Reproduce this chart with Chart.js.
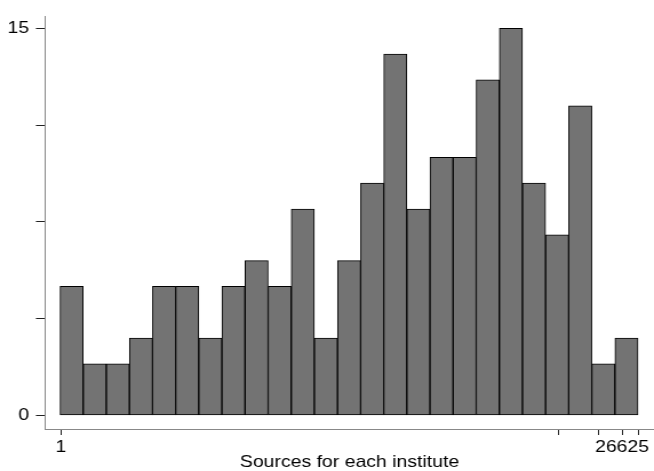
<!DOCTYPE html>
<html>
<head>
<meta charset="utf-8">
<script src="https://cdn.jsdelivr.net/npm/chart.js@4.4.1/dist/chart.umd.min.js"></script>
<style>
  body { margin: 0; background: #fff; }
</style>
</head>
<body>
<!-- drawn narrower and stretched sideways, like the original picture -->
<canvas id="hist" width="572" height="471" style="width:654px;height:471px;display:block"></canvas>
<script>
// frequency of each bin (25 bins)
var counts = [5, 2, 2, 3, 5, 5, 3, 5, 6, 5, 8, 3, 6, 9, 14, 8, 10, 10, 13, 15, 9, 7, 12, 2, 3];

// x axis ticks, in bin units
var xTickValues = [0.03, 21.58, 23.27, 24.31, 25.0];
var xTickLabels = ['1', '', '', '26625', ''];

// y axis ticks
var yTickValues = [0, 3.75, 7.5, 11.25, 15];
var yTickLabels = ['0', '', '', '', '15'];

var font = { family: "'Liberation Sans', Arial, sans-serif", size: 17 };

var points = [];
for (var i = 0; i < counts.length; i++) {
    points.push({ x: i + 0.5, y: counts[i] });
}

var ctx = document.getElementById('hist');

var myChart = new Chart(ctx, {
    type: 'bar',
    data: {
        datasets: [{
            label: 'Frequency',
            data: points,
            backgroundColor: '#737373',
            borderColor: '#000000',
            borderWidth: 1,
            borderSkipped: false,
            barThickness: 'flex',
            barPercentage: 1,
            categoryPercentage: 1
        }]
    },
    options: {
        responsive: false,
        devicePixelRatio: 1,
        animation: false,
        layout: { padding: { top: 12, left: 0, right: 0, bottom: 0 } },
        plugins: {
            legend: { display: false },
            tooltip: { enabled: false }
        },
        scales: {
            x: {
                type: 'linear',
                offset: false,
                min: -0.649,
                max: 25.69,
                grid: { display: true, drawOnChartArea: false, tickLength: 6, tickColor: '#222', offset: false },
                border: { display: true, color: '#888', width: 1 },
                afterBuildTicks: function (scale) {
                    scale.ticks = xTickValues.map(function (v) { return { value: v }; });
                },
                afterFit: function (scale) { scale.height = 42; },
                ticks: {
                    autoSkip: false,
                    maxRotation: 0,
                    padding: 2,
                    color: '#000',
                    font: font,
                    callback: function (value, index) { return xTickLabels[index]; }
                },
                title: {
                    display: true,
                    text: 'Sources for each institute',
                    color: '#000',
                    font: { family: font.family, size: 17, lineHeight: 1.0 },
                    padding: { top: 0, bottom: 0 }
                }
            },
            y: {
                min: -0.525,
                max: 15.47,
                grid: { display: true, drawOnChartArea: false, tickLength: 8, tickColor: '#222' },
                border: { display: true, color: '#888', width: 1 },
                afterBuildTicks: function (scale) {
                    scale.ticks = yTickValues.map(function (v) { return { value: v }; });
                },
                afterFit: function (scale) { scale.width = 39.4; },
                ticks: {
                    padding: 6,
                    color: '#000',
                    font: font,
                    callback: function (value, index) { return yTickLabels[index]; }
                }
            }
        }
    }
});
</script>
</body>
</html>
